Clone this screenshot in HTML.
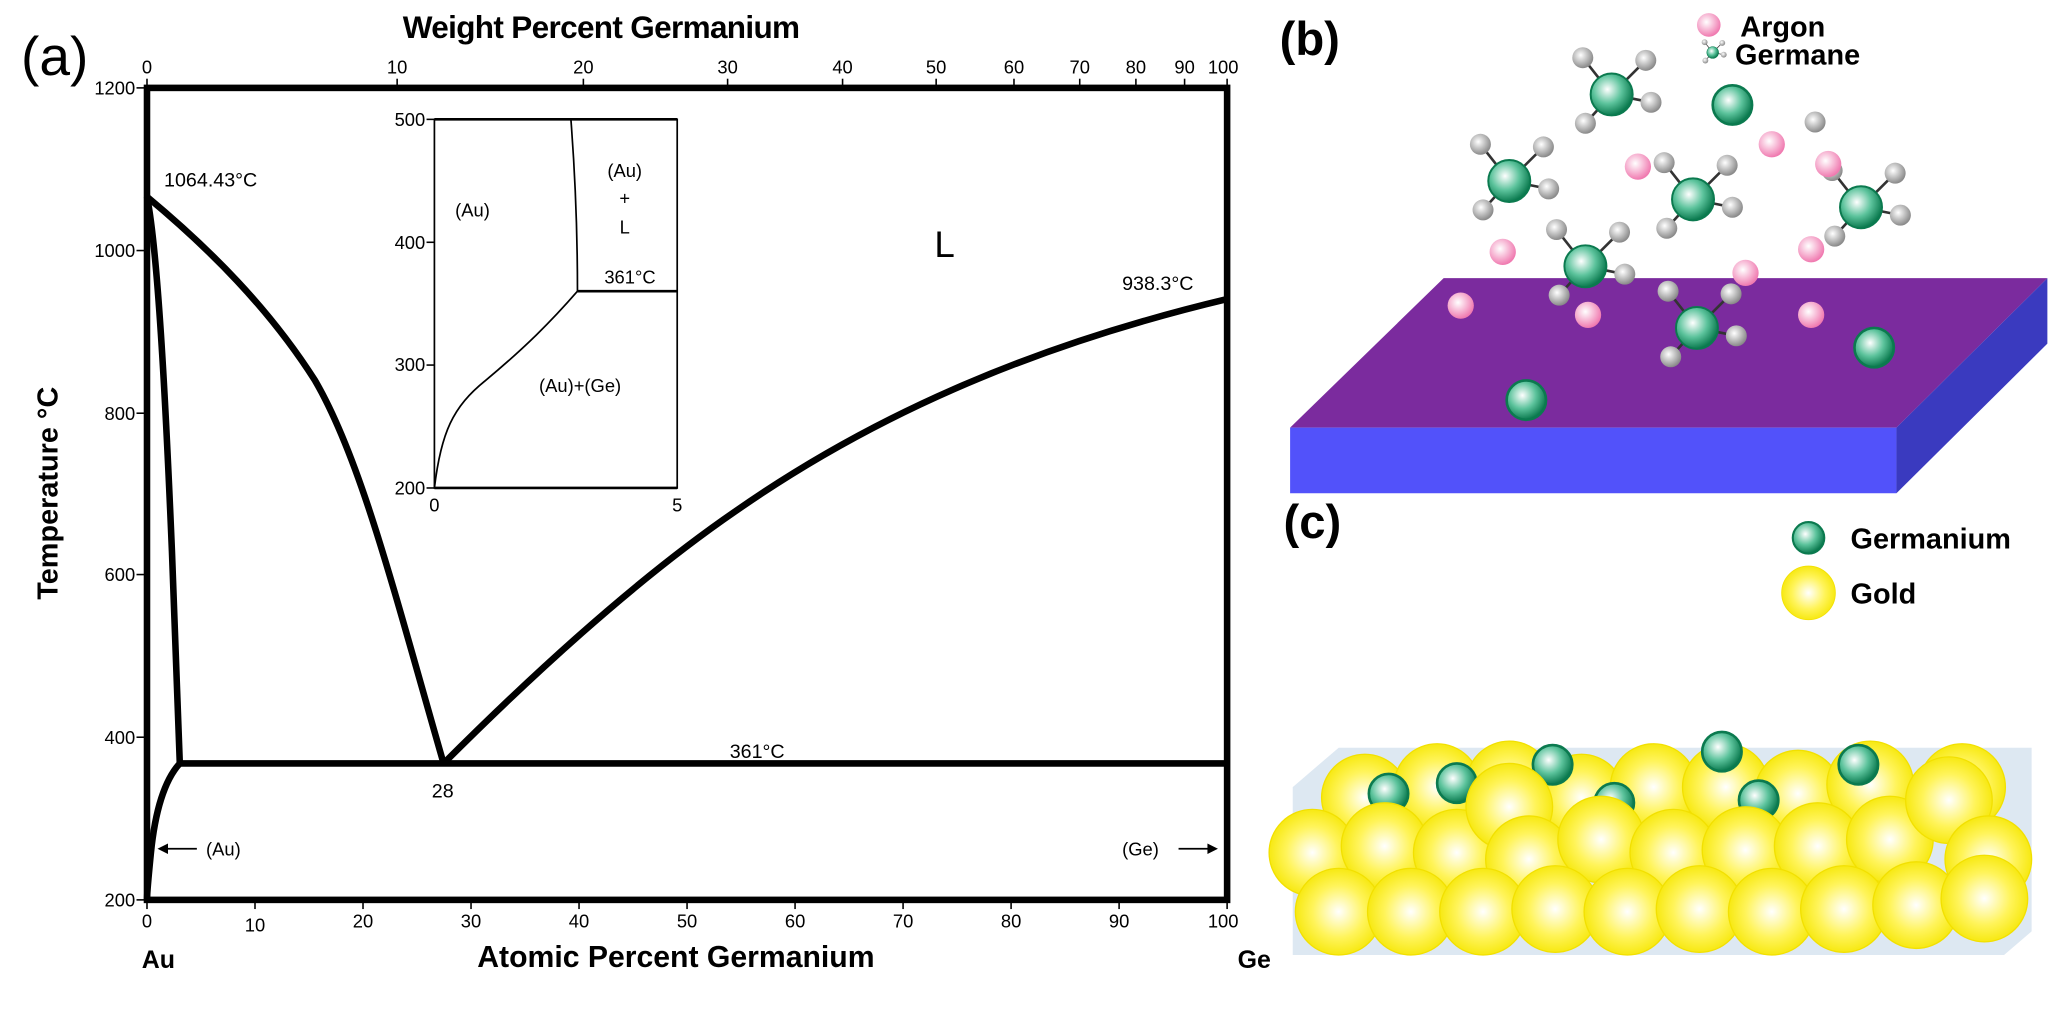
<!DOCTYPE html>
<html><head><meta charset="utf-8"><style>
html,body{margin:0;padding:0;background:#fff;}
svg{display:block;}
text{font-family:"Liberation Sans",Arial,sans-serif;}
</style></head><body>
<svg width="2050" height="1014" viewBox="0 0 1562 773" preserveAspectRatio="none" xmlns="http://www.w3.org/2000/svg">
<defs>
<radialGradient id="gG" cx="40%" cy="38%" r="62%"><stop offset="0" stop-color="#ffffff"/><stop offset="0.55" stop-color="#5cc39c"/><stop offset="1" stop-color="#0b7a4f"/></radialGradient>
<radialGradient id="gH" cx="40%" cy="38%" r="62%"><stop offset="0" stop-color="#ffffff"/><stop offset="1" stop-color="#8a8a8a"/></radialGradient>
<radialGradient id="gP" cx="40%" cy="38%" r="62%"><stop offset="0" stop-color="#ffffff"/><stop offset="1" stop-color="#f07ab0"/></radialGradient>
<radialGradient id="gY" cx="50%" cy="50%" r="55%"><stop offset="0" stop-color="#ffffff"/><stop offset="0.55" stop-color="#fff45a"/><stop offset="1" stop-color="#f5e600"/></radialGradient>
<g id="mol">
<line x1="0" y1="0" x2="-22" y2="-28" stroke="#333" stroke-width="2"/>
<line x1="0" y1="0" x2="26" y2="-26" stroke="#333" stroke-width="2"/>
<line x1="0" y1="0" x2="30" y2="6" stroke="#333" stroke-width="2"/>
<line x1="0" y1="0" x2="-20" y2="22" stroke="#333" stroke-width="2"/>
<circle cx="-22" cy="-28" r="8" fill="url(#gH)"/>
<circle cx="26" cy="-26" r="8" fill="url(#gH)"/>
<circle cx="30" cy="6" r="8" fill="url(#gH)"/>
<circle cx="-20" cy="22" r="8" fill="url(#gH)"/>
<circle cx="0" cy="0" r="16" fill="url(#gG)" stroke="#0b7a4f" stroke-width="1.5"/>
</g>
<g id="ge"><circle cx="0" cy="0" r="15" fill="url(#gG)" stroke="#0b7a4f" stroke-width="2"/></g>
<g id="ar"><circle cx="0" cy="0" r="10" fill="url(#gP)"/></g>
<g id="au"><circle cx="0" cy="0" r="33" fill="url(#gY)" stroke="#f2e000" stroke-width="1"/></g>
</defs>

<!-- (a) -->
<text x="16" y="57" font-size="42">(a)</text>
<text x="458" y="29" font-size="24" font-weight="bold" text-anchor="middle" letter-spacing="-0.5">Weight Percent Germanium</text>
<!-- top ticks -->
<g stroke="#000" stroke-width="1.2">
<line x1="112" y1="67" x2="112" y2="60"/><line x1="302.6" y1="67" x2="302.6" y2="60"/><line x1="444.5" y1="67" x2="444.5" y2="60"/><line x1="554.4" y1="67" x2="554.4" y2="60"/><line x1="642" y1="67" x2="642" y2="60"/><line x1="713.3" y1="67" x2="713.3" y2="60"/><line x1="772.6" y1="67" x2="772.6" y2="60"/><line x1="822.7" y1="67" x2="822.7" y2="60"/><line x1="865.5" y1="67" x2="865.5" y2="60"/><line x1="902.6" y1="67" x2="902.6" y2="60"/><line x1="935" y1="67" x2="935" y2="60"/>
</g>
<g font-size="14" text-anchor="middle">
<text x="112" y="56">0</text><text x="302.6" y="56">10</text><text x="444.5" y="56">20</text><text x="554.4" y="56">30</text><text x="642" y="56">40</text><text x="713.3" y="56">50</text><text x="772.6" y="56">60</text><text x="822.7" y="56">70</text><text x="865.5" y="56">80</text><text x="902.6" y="56">90</text><text x="932" y="56">100</text>
</g>
<!-- left ticks -->
<g stroke="#000" stroke-width="1.2">
<line x1="104" y1="67" x2="112" y2="67"/><line x1="104" y1="191" x2="112" y2="191"/><line x1="104" y1="315" x2="112" y2="315"/><line x1="104" y1="438" x2="112" y2="438"/><line x1="104" y1="562" x2="112" y2="562"/><line x1="104" y1="686" x2="112" y2="686"/>
</g>
<g font-size="14" text-anchor="end">
<text x="103" y="72">1200</text><text x="103" y="196">1000</text><text x="103" y="320">800</text><text x="103" y="443">600</text><text x="103" y="567">400</text><text x="103" y="691">200</text>
</g>
<text transform="translate(44,376) rotate(-90)" font-size="22" font-weight="bold" text-anchor="middle">Temperature °C</text>
<!-- bottom ticks -->
<g stroke="#000" stroke-width="1.2">
<line x1="112" y1="686" x2="112" y2="693"/><line x1="194.3" y1="686" x2="194.3" y2="693"/><line x1="276.6" y1="686" x2="276.6" y2="693"/><line x1="358.9" y1="686" x2="358.9" y2="693"/><line x1="441.2" y1="686" x2="441.2" y2="693"/><line x1="523.5" y1="686" x2="523.5" y2="693"/><line x1="605.8" y1="686" x2="605.8" y2="693"/><line x1="688.1" y1="686" x2="688.1" y2="693"/><line x1="770.4" y1="686" x2="770.4" y2="693"/><line x1="852.7" y1="686" x2="852.7" y2="693"/><line x1="935" y1="686" x2="935" y2="693"/>
</g>
<g font-size="14" text-anchor="middle">
<text x="112" y="707">0</text><text x="194.3" y="710">10</text><text x="276.6" y="707">20</text><text x="358.9" y="707">30</text><text x="441.2" y="707">40</text><text x="523.5" y="707">50</text><text x="605.8" y="707">60</text><text x="688.1" y="707">70</text><text x="770.4" y="707">80</text><text x="852.7" y="707">90</text><text x="932" y="707">100</text>
</g>
<text x="108" y="738" font-size="19" font-weight="bold">Au</text>
<text x="943" y="738" font-size="19" font-weight="bold">Ge</text>
<text x="515" y="737" font-size="23" font-weight="bold" text-anchor="middle">Atomic Percent Germanium</text>

<!-- frame -->
<rect x="112" y="67" width="823" height="619" fill="none" stroke="#000" stroke-width="5"/>
<!-- curves -->
<g fill="none" stroke="#000" stroke-width="5" stroke-linejoin="round">
<path d="M112,150 C160,190 205,235 240,290 C275,350 300,450 338,582"/>
<path d="M338,582 C400,520 480,445 560,390 C660,320 780,265 935,228"/>
<path d="M112,150 C120,190 126,300 131,420 C134,500 136,560 137,582"/>
<path d="M137,582 C125,595 118,620 115,650 C113,670 112,680 112,686"/>
<line x1="137" y1="582" x2="935" y2="582"/>
</g>
<text x="125" y="142" font-size="15">1064.43°C</text>
<text x="712" y="196" font-size="28">L</text>
<text x="855" y="221" font-size="15">938.3°C</text>
<text x="556" y="578" font-size="15">361°C</text>
<text x="329" y="608" font-size="15">28</text>
<text x="157" y="652" font-size="14">(Au)</text>
<line x1="122" y1="647" x2="150" y2="647" stroke="#000" stroke-width="1.3"/>
<path d="M120,647 L128,643 L128,651 Z" fill="#000"/>
<text x="855" y="652" font-size="14">(Ge)</text>
<line x1="898" y1="647" x2="924" y2="647" stroke="#000" stroke-width="1.3"/>
<path d="M928,647 L920,643 L920,651 Z" fill="#000"/>

<!-- inset -->
<rect x="331" y="91" width="185" height="281" fill="#fff" stroke="#000" stroke-width="1.3"/>
<line x1="331" y1="91" x2="516" y2="91" stroke="#000" stroke-width="2"/>
<line x1="331" y1="372" x2="516" y2="372" stroke="#000" stroke-width="2"/>
<g stroke="#000" stroke-width="1.2">
<line x1="325" y1="91" x2="331" y2="91"/><line x1="325" y1="184.7" x2="331" y2="184.7"/><line x1="325" y1="278.3" x2="331" y2="278.3"/><line x1="325" y1="372" x2="331" y2="372"/>
</g>
<g font-size="14" text-anchor="end">
<text x="324" y="96">500</text><text x="324" y="190">400</text><text x="324" y="283">300</text><text x="324" y="377">200</text>
</g>
<text x="331" y="390" font-size="14" text-anchor="middle">0</text>
<text x="516" y="390" font-size="14" text-anchor="middle">5</text>
<g fill="none" stroke="#000" stroke-width="1.3">
<path d="M435,91 C438,130 440,180 440,222"/>
<line x1="440" y1="222" x2="516" y2="222" stroke-width="2"/>
<path d="M331,372 C336,330 345,310 370,290 C400,265 420,245 440,222"/>
</g>
<g font-size="14" text-anchor="middle">
<text x="360" y="165">(Au)</text>
<text x="476" y="135">(Au)</text>
<text x="476" y="156">+</text>
<text x="476" y="178">L</text>
<text x="480" y="216">361°C</text>
<text x="442" y="299">(Au)+(Ge)</text>
</g>

<!-- (b) -->
<text x="975" y="42" font-size="36" font-weight="bold">(b)</text>
<use href="#ar" transform="translate(1302,19) scale(0.9)"/>
<text x="1326" y="28" font-size="22" font-weight="bold">Argon</text>
<use href="#mol" transform="translate(1305,40) scale(0.28)"/>
<text x="1322" y="49" font-size="22" font-weight="bold">Germane</text>
<polygon points="983,326 1100,212 1560,212 1445,326" fill="#7b2b9e"/>
<polygon points="983,326 1445,326 1445,376 983,376" fill="#5252fa"/>
<polygon points="1445,326 1560,212 1560,262 1445,376" fill="#3a3abf"/>
<use href="#mol" x="1228" y="72"/>
<use href="#mol" x="1150" y="138"/>
<use href="#mol" x="1290" y="152"/>
<use href="#mol" x="1418" y="158"/>
<use href="#mol" x="1208" y="203"/>
<use href="#mol" x="1293" y="250"/>
<use href="#ge" x="1320" y="80"/>
<use href="#ge" x="1428" y="265"/>
<use href="#ge" x="1163" y="305"/>
<circle cx="1383" cy="93" r="8" fill="url(#gH)"/>
<use href="#ar" x="1248" y="127"/><use href="#ar" x="1350" y="110"/><use href="#ar" x="1393" y="125"/>
<use href="#ar" x="1145" y="192"/><use href="#ar" x="1330" y="208"/><use href="#ar" x="1380" y="190"/>
<use href="#ar" x="1113" y="233"/><use href="#ar" x="1210" y="240"/><use href="#ar" x="1380" y="240"/>

<!-- (c) -->
<text x="978" y="410" font-size="36" font-weight="bold">(c)</text>
<use href="#ge" transform="translate(1378,410) scale(0.8)"/>
<text x="1410" y="418" font-size="22" font-weight="bold">Germanium</text>
<use href="#au" transform="translate(1378,452) scale(0.62)"/>
<text x="1410" y="460" font-size="22" font-weight="bold">Gold</text>
<polygon points="985,600 1020,570 1548,570 1548,710 1527,728 985,728" fill="#dde8f2"/>
<use href="#au" x="1040" y="608"/><use href="#au" x="1095" y="600"/><use href="#au" x="1150" y="598"/><use href="#au" x="1205" y="608"/><use href="#au" x="1260" y="600"/><use href="#au" x="1315" y="600"/><use href="#au" x="1370" y="605"/><use href="#au" x="1425" y="598"/><use href="#au" x="1495" y="600"/>
<use href="#ge" x="1058" y="605"/><use href="#ge" x="1110" y="597"/><use href="#ge" x="1183" y="583"/><use href="#ge" x="1312" y="573"/><use href="#ge" x="1416" y="583"/><use href="#ge" x="1230" y="612"/><use href="#ge" x="1340" y="610"/>
<use href="#au" x="1000" y="650"/><use href="#au" x="1055" y="645"/><use href="#au" x="1110" y="650"/><use href="#au" x="1150" y="615"/><use href="#au" x="1165" y="655"/><use href="#au" x="1220" y="640"/><use href="#au" x="1275" y="650"/><use href="#au" x="1330" y="648"/><use href="#au" x="1385" y="645"/><use href="#au" x="1440" y="640"/><use href="#au" x="1485" y="610"/><use href="#au" x="1515" y="655"/>
<use href="#au" x="1020" y="695"/><use href="#au" x="1075" y="695"/><use href="#au" x="1130" y="695"/><use href="#au" x="1185" y="693"/><use href="#au" x="1240" y="695"/><use href="#au" x="1295" y="693"/><use href="#au" x="1350" y="695"/><use href="#au" x="1405" y="693"/><use href="#au" x="1460" y="690"/><use href="#au" x="1512" y="685"/>
</svg>
</body></html>
